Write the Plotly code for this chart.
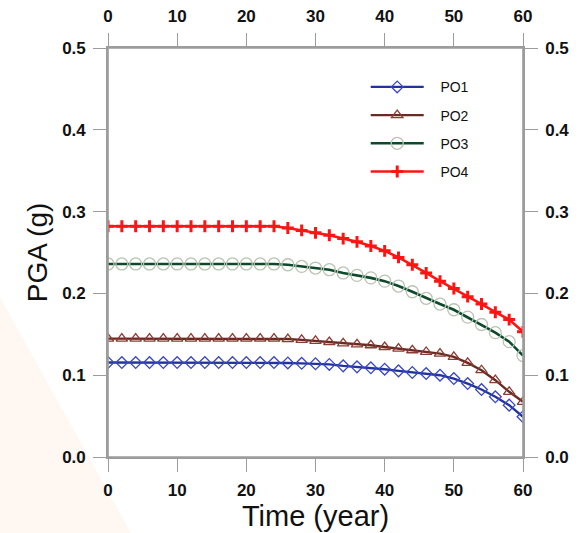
import plotly.graph_objects as go

# Time (years), sampled every 2 years
years = list(range(0, 61, 2))

po1 = [0.1155] * 13 + [0.1150, 0.1145, 0.1140, 0.1132, 0.1114, 0.1102, 0.1090, 0.1073,
                       0.1053, 0.1033, 0.1020, 0.1000, 0.0959, 0.0898, 0.0825, 0.0736,
                       0.0634, 0.0492]
po2 = [0.1447] * 13 + [0.1442, 0.1432, 0.1420, 0.1406, 0.1390, 0.1378, 0.1366, 0.1345,
                       0.1325, 0.1305, 0.1284, 0.1264, 0.1224, 0.1150, 0.1061, 0.0939,
                       0.0797, 0.0675]
po3 = [0.236] * 13 + [0.235, 0.233, 0.231, 0.229, 0.225, 0.222, 0.219, 0.215,
                      0.209, 0.202, 0.194, 0.187, 0.180, 0.171, 0.162, 0.152,
                      0.141, 0.124]
po4 = [0.282] * 13 + [0.280, 0.277, 0.274, 0.271, 0.267, 0.263, 0.258, 0.252,
                      0.244, 0.235, 0.225, 0.215, 0.206, 0.196, 0.187, 0.177,
                      0.168, 0.153]

series_names = ["PO1", "PO2", "PO3", "PO4"]
x_ticks = [0, 10, 20, 30, 40, 50, 60]
y_ticks = [0.0, 0.1, 0.2, 0.3, 0.4, 0.5]
y_tick_text = ["0.0", "0.1", "0.2", "0.3", "0.4", "0.5"]

FONT = "Liberation Sans, Arial, sans-serif"
AXIS_GREY = "#9c9c9c"
NBSP = "\u00a0"

styles = [
    dict(line=dict(color="#23339e", width=2.4),
         marker=dict(symbol="diamond-open", size=9, color="#3a48c0",
                     line=dict(width=1.3, color="#3a48c0"))),
    dict(line=dict(color="#6a2a24", width=2.4),
         marker=dict(symbol="triangle-up-open", size=10, color="#8a3c32",
                     line=dict(width=1.3, color="#8a3c32"))),
    dict(line=dict(color="#0c4a2b", width=2.6),
         marker=dict(symbol="circle-open", size=12, color="#b9c3b2",
                     line=dict(width=1.3, color="#b9c3b2"))),
    dict(line=dict(color="#ff1414", width=2.6),
         marker=dict(symbol="cross-thin", size=8.5, color="#ff1414",
                     line=dict(width=3, color="#ff1414"))),
]

fig = go.Figure()
for name, ys, st in zip(series_names, [po1, po2, po3, po4], styles):
    fig.add_trace(go.Scatter(
        x=years, y=ys, name=NBSP * 3 + name, mode="lines+markers",
        line=st["line"], marker=st["marker"], legendgroup=name,
    ))

# Same series bound to the mirrored top/right axes (invisible) so those axes render
fig.add_trace(go.Scatter(x=years, y=po4, xaxis="x2", yaxis="y2", mode="lines",
                         line=dict(width=0), opacity=0, showlegend=False,
                         hoverinfo="skip"))

# Faint peach wash in the lower-left corner of the page
fig.add_shape(type="path", xref="paper", yref="paper", layer="below",
              path="M -0.26,0.39 L -0.26,-0.186 L 0.055,-0.186 Z",
              fillcolor="rgba(248,214,192,0.20)", line=dict(width=0))

# Plot frame
fig.add_shape(type="rect", xref="paper", yref="paper", x0=0, y0=0, x1=1, y1=1,
              layer="above", line=dict(color=AXIS_GREY, width=1.6))

tickfont = dict(family=FONT, size=17, color="#111111", weight="bold")
axis_common = dict(
    showline=True, linecolor=AXIS_GREY, linewidth=1.6, automargin=False,
    ticks="outside", ticklen=13, tickwidth=1.4, tickcolor=AXIS_GREY,
    showgrid=False, zeroline=False, tickfont=tickfont,
)

fig.update_layout(
    width=578, height=533,
    margin=dict(l=108, r=55, t=48, b=76),
    paper_bgcolor="white", plot_bgcolor="white",
    font=dict(family=FONT),
    xaxis=dict(range=[0, 60], tickvals=x_ticks, ticklabelstandoff=4,
               title=dict(text="Time (year)", font=dict(family=FONT, size=29, color="#111111"),
                          standoff=4),
               **axis_common),
    yaxis=dict(range=[0, 0.5], tickvals=y_ticks, ticktext=y_tick_text, ticklabelstandoff=4,
               title=dict(text="PGA (g)", font=dict(family=FONT, size=28, color="#111111"),
                          standoff=6),
               **axis_common),
    xaxis2=dict(range=[0, 60], tickvals=x_ticks, overlaying="x", side="top",
                anchor="y2", ticklabelstandoff=4, **axis_common),
    yaxis2=dict(range=[0, 0.5], tickvals=y_ticks, ticktext=y_tick_text, overlaying="y",
                side="right", anchor="x2", ticklabelstandoff=4, **axis_common),
    legend=dict(x=0.621, y=0.943, xanchor="left", yanchor="top",
                bgcolor="rgba(0,0,0,0)", itemwidth=53, tracegroupgap=7,
                font=dict(family=FONT, size=14, color="#111111")),
    showlegend=True,
)

fig.write_html("out.html")
